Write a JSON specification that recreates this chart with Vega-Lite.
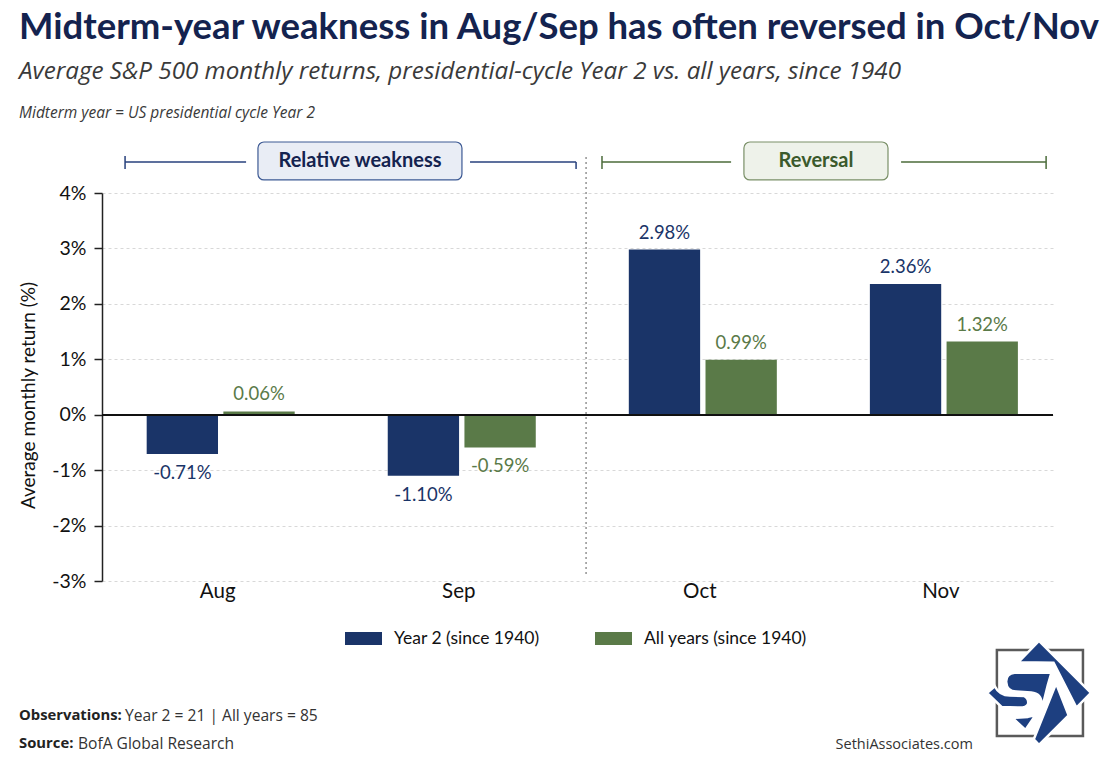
{
  "$schema": "https://vega.github.io/schema/vega-lite/v6.json",
  "width": 951,
  "height": 388,
  "autosize": "none",
  "padding": {"left": 102, "top": 193, "right": 47, "bottom": 184},
  "background": "#ffffff",
  "config": {"view": {"stroke": null}, "font": "Lato", "axis": {"labelFont": "Lato", "titleFont": "Lato"}, "legend": {"labelFont": "Lato"}},
  "title": {
    "text": "Midterm-year weakness in Aug/Sep has often reversed in Oct/Nov",
    "subtitle": "Average S&P 500 monthly returns, presidential-cycle Year 2 vs. all years, since 1940",
    "anchor": "start",
    "frame": "group",
    "dx": -83,
    "offset": 22,
    "font": "Lato",
    "fontSize": 36.5,
    "fontWeight": "bold",
    "color": "#14234f",
    "subtitleFont": "Open Sans",
    "subtitleFontStyle": "italic",
    "subtitleFontSize": 24.2,
    "subtitleColor": "#3a3a3a",
    "subtitlePadding": 13
  },
  "datasets": {
    "returns": [
      {"month": "Aug", "series": "Year 2 (since 1940)", "value": -0.71},
      {"month": "Aug", "series": "All years (since 1940)", "value": 0.06},
      {"month": "Sep", "series": "Year 2 (since 1940)", "value": -1.10},
      {"month": "Sep", "series": "All years (since 1940)", "value": -0.59},
      {"month": "Oct", "series": "Year 2 (since 1940)", "value": 2.98},
      {"month": "Oct", "series": "All years (since 1940)", "value": 0.99},
      {"month": "Nov", "series": "Year 2 (since 1940)", "value": 2.36},
      {"month": "Nov", "series": "All years (since 1940)", "value": 1.32}
    ],
    "annotations": [
      {"kind": "divider", "x": 2.036, "x2": 2.036, "y": 4.65, "y2": -2.89},
      {"kind": "weak", "x": 0.097, "x2": 0.606, "y": 4.559, "y2": 4.559},
      {"kind": "weak", "x": 1.548, "x2": 1.994, "y": 4.559, "y2": 4.559},
      {"kind": "weak", "x": 0.097, "x2": 0.097, "y": 4.667, "y2": 4.433},
      {"kind": "weak", "x": 1.994, "x2": 1.994, "y": 4.559, "y2": 4.433},
      {"kind": "reversal", "x": 2.103, "x2": 2.646, "y": 4.559, "y2": 4.559},
      {"kind": "reversal", "x": 3.361, "x2": 3.971, "y": 4.559, "y2": 4.559},
      {"kind": "reversal", "x": 2.103, "x2": 2.103, "y": 4.667, "y2": 4.433},
      {"kind": "reversal", "x": 3.971, "x2": 3.971, "y": 4.667, "y2": 4.433},
      {"kind": "weakBox", "x": 0.656, "x2": 1.514, "y": 4.92, "y2": 4.235},
      {"kind": "reversalBox", "x": 2.7, "x2": 3.306, "y": 4.92, "y2": 4.235},
      {"kind": "weakLabel", "x": 1.085, "y": 4.577, "label": "Relative weakness"},
      {"kind": "reversalLabel", "x": 3.003, "y": 4.577, "label": "Reversal"},
      {"kind": "note", "x": -0.349, "y": 5.443, "label": "Midterm year = US presidential cycle Year 2"},
      {"kind": "footBold", "x": -0.349, "y": -5.435, "label": "Observations:"},
      {"kind": "foot", "x": 0.097, "y": -5.435, "label": "Year 2 = 21 | All years = 85"},
      {"kind": "footBold", "x": -0.349, "y": -5.94, "label": "Source:"},
      {"kind": "foot", "x": -0.101, "y": -5.94, "label": "BofA Global Research"},
      {"kind": "site", "x": 3.663, "y": -5.96, "label": "SethiAssociates.com"},
      {"kind": "frame", "x": 3.764, "x2": 4.126, "y": -4.245, "y2": -5.796},
      {"kind": "logo", "x": 3.941, "y": -5.02}
    ]
  },
  "layer": [
    {
      "data": {"name": "returns"},
      "encoding": {
        "x": {
          "field": "month",
          "type": "nominal",
          "sort": ["Aug", "Sep", "Oct", "Nov"],
          "scale": {"paddingInner": 0.386, "paddingOuter": 0.1655, "align": 0.56},
          "axis": {
            "title": null,
            "labelAngle": 0,
            "labelFontSize": 20.5,
            "labelColor": "#111111",
            "labelPadding": 0,
            "labelOffset": -3,
            "ticks": false,
            "domain": false,
            "grid": false
          }
        }
      },
      "layer": [
        {
          "mark": {"type": "bar"},
          "encoding": {
            "xOffset": {
              "field": "series",
              "type": "nominal",
              "sort": ["Year 2 (since 1940)", "All years (since 1940)"],
              "scale": {"paddingInner": 0.07}
            },
            "y": {
              "field": "value",
              "type": "quantitative",
              "scale": {"domain": [-3, 4], "nice": false},
              "axis": {
                "title": "Average monthly return (%)",
                "titleFontSize": 19,
                "titleFontWeight": "normal",
                "titleColor": "#111111",
                "titlePadding": 13,
                "titleY": 202,
                "values": [-3, -2, -1, 0, 1, 2, 3, 4],
                "labelExpr": "datum.value + '%'",
                "labelFontSize": 19.5,
                "labelColor": "#111111",
                "labelPadding": 8,
                "tickSize": 8,
                "tickColor": "#222222",
                "tickWidth": 1.5,
                "domainColor": "#222222",
                "domainWidth": 1.5,
                "grid": true,
                "gridColor": "#d8d8d8",
                "gridDash": [3, 3],
                "gridWidth": 1
              }
            },
            "color": {
              "field": "series",
              "type": "nominal",
              "sort": ["Year 2 (since 1940)", "All years (since 1940)"],
              "scale": {
                "domain": ["Year 2 (since 1940)", "All years (since 1940)"],
                "range": ["#1a3468", "#5a7a48"]
              },
              "legend": {
                "title": null,
                "orient": "none",
                "direction": "horizontal",
                "legendX": 243,
                "legendY": 427,
                "symbolType": "M-1,-0.35H1V0.35H-1Z",
                "symbolSize": 1369,
                "symbolStrokeWidth": 0,
                "labelFontSize": 17.5,
                "labelColor": "#111111",
                "labelOffset": 12,
                "labelLimit": 260,
                "columnPadding": 55
              }
            }
          }
        },
        {
          "transform": [
            {"filter": "datum.value >= 0"},
            {"calculate": "format(datum.value, '.2f') + '%'", "as": "label"}
          ],
          "mark": {"type": "text", "baseline": "bottom", "dy": -7, "fontSize": 18.5},
          "encoding": {
            "xOffset": {
              "field": "series",
              "type": "nominal",
              "sort": ["Year 2 (since 1940)", "All years (since 1940)"],
              "scale": {"paddingInner": 0.07}
            },
            "y": {"field": "value", "type": "quantitative", "scale": {"domain": [-3, 4], "nice": false}},
            "text": {"field": "label"},
            "color": {"field": "series", "type": "nominal", "legend": null}
          }
        },
        {
          "transform": [
            {"filter": "datum.value < 0"},
            {"calculate": "replace(format(datum.value, '.2f'), '\u2212', '-') + '%'", "as": "label"}
          ],
          "mark": {"type": "text", "baseline": "top", "dy": 10, "fontSize": 18.5},
          "encoding": {
            "xOffset": {
              "field": "series",
              "type": "nominal",
              "sort": ["Year 2 (since 1940)", "All years (since 1940)"],
              "scale": {"paddingInner": 0.07}
            },
            "y": {"field": "value", "type": "quantitative", "scale": {"domain": [-3, 4], "nice": false}},
            "text": {"field": "label"},
            "color": {"field": "series", "type": "nominal", "legend": null}
          }
        },
        {
          "mark": {"type": "rule", "color": "#111111", "strokeWidth": 1.5},
          "encoding": {"x": {"value": 0}, "x2": {"value": 951}, "y": {"datum": 0, "type": "quantitative", "scale": {"domain": [-3, 4], "nice": false}}}
        }
      ]
    },
    {
      "data": {"name": "annotations"},
      "encoding": {
        "x": {"field": "x", "type": "quantitative", "scale": {"domain": [0, 4], "nice": false, "zero": false}, "axis": null},
        "y": {"field": "y", "type": "quantitative", "scale": {"domain": [-3, 4], "nice": false}}
      },
      "layer": [
        {
          "transform": [{"filter": "datum.kind == 'divider'"}],
          "mark": {"type": "rule", "color": "#777777", "strokeDash": [2, 3], "strokeWidth": 1.2},
          "encoding": {"x2": {"field": "x2"}, "y2": {"field": "y2"}}
        },
        {
          "transform": [{"filter": "datum.kind == 'weak'"}],
          "mark": {"type": "rule", "color": "#27407c", "strokeWidth": 1.5},
          "encoding": {"x2": {"field": "x2"}, "y2": {"field": "y2"}}
        },
        {
          "transform": [{"filter": "datum.kind == 'reversal'"}],
          "mark": {"type": "rule", "color": "#4b6b3a", "strokeWidth": 1.5},
          "encoding": {"x2": {"field": "x2"}, "y2": {"field": "y2"}}
        },
        {
          "transform": [{"filter": "datum.kind == 'weakBox'"}],
          "mark": {"type": "rect", "fill": "#e9edf5", "stroke": "#3d5a94", "strokeWidth": 1.2, "cornerRadius": 6},
          "encoding": {"x2": {"field": "x2"}, "y2": {"field": "y2"}}
        },
        {
          "transform": [{"filter": "datum.kind == 'reversalBox'"}],
          "mark": {"type": "rect", "fill": "#eef2ea", "stroke": "#7a9068", "strokeWidth": 1.2, "cornerRadius": 6},
          "encoding": {"x2": {"field": "x2"}, "y2": {"field": "y2"}}
        },
        {
          "transform": [{"filter": "datum.kind == 'weakLabel'"}],
          "mark": {"type": "text", "fontSize": 20, "fontWeight": "bold", "color": "#14234f"},
          "encoding": {"text": {"field": "label"}}
        },
        {
          "transform": [{"filter": "datum.kind == 'reversalLabel'"}],
          "mark": {"type": "text", "fontSize": 20, "fontWeight": "bold", "color": "#3b5a2c"},
          "encoding": {"text": {"field": "label"}}
        },
        {
          "transform": [{"filter": "datum.kind == 'note'"}],
          "mark": {"type": "text", "align": "left", "font": "Open Sans", "fontStyle": "italic", "fontSize": 15.5, "color": "#3a3a3a"},
          "encoding": {"text": {"field": "label"}}
        },
        {
          "transform": [{"filter": "datum.kind == 'footBold'"}],
          "mark": {"type": "text", "align": "left", "font": "Open Sans", "fontWeight": "bold", "fontSize": 14.8, "color": "#222222"},
          "encoding": {"text": {"field": "label"}}
        },
        {
          "transform": [{"filter": "datum.kind == 'foot'"}],
          "mark": {"type": "text", "align": "left", "font": "Open Sans", "fontSize": 15.6, "color": "#333333"},
          "encoding": {"text": {"field": "label"}}
        },
        {
          "transform": [{"filter": "datum.kind == 'site'"}],
          "mark": {"type": "text", "align": "right", "font": "Open Sans", "fontSize": 14.5, "color": "#333333"},
          "encoding": {"text": {"field": "label"}}
        },
        {
          "transform": [{"filter": "datum.kind == 'frame'"}],
          "mark": {"type": "rect", "fillOpacity": 0, "stroke": "#5a5a5a", "strokeWidth": 2.5},
          "encoding": {"x2": {"field": "x2"}, "y2": {"field": "y2"}}
        },
        {
          "transform": [{"filter": "datum.kind == 'logo'"}],
          "mark": {"type": "point", "filled": true, "opacity": 1, "size": 10816, "color": "#1d3f80", "stroke": "#ffffff", "strokeWidth": 2.5, "strokeOpacity": 1, "shape": "M0,-1L1,0L0.72,0.28L0.28,-0.58L-0.4,-0.59Z"}
        },
        {
          "transform": [{"filter": "datum.kind == 'logo'"}],
          "mark": {"type": "point", "filled": true, "opacity": 1, "size": 10816, "color": "#1d3f80", "stroke": "#ffffff", "strokeWidth": 2.5, "strokeOpacity": 1, "shape": "M0.24,-0.39L-0.47,-0.39Q-0.64,-0.37,-0.63,-0.21Q-0.62,-0.03,-0.44,-0.03L-0.15,-0.01Q0.05,0.01,0.05,0.21Q0.01,0.43,-0.21,0.46L-0.51,0.48L-0.26,0.71L0.08,0.21L0.17,-0.15Z"}
        },
        {
          "transform": [{"filter": "datum.kind == 'logo'"}],
          "mark": {"type": "point", "filled": true, "opacity": 1, "size": 10816, "color": "#1d3f80", "stroke": "#ffffff", "strokeWidth": 2.5, "strokeOpacity": 1, "shape": "M-1,0L-0.85,-0.13Q-0.76,0.05,-0.56,0.05L-0.28,0.06Q-0.19,0.11,-0.21,0.21Q-0.24,0.28,-0.37,0.28L-0.72,0.27Z"}
        },
        {
          "transform": [{"filter": "datum.kind == 'logo'"}],
          "mark": {"type": "point", "filled": true, "opacity": 1, "size": 10816, "color": "#1d3f80", "stroke": "#ffffff", "strokeWidth": 2.5, "strokeOpacity": 1, "shape": "M0.33,-0.18L0.57,0.43L0,1L-0.1,0.89Z"}
        }
      ]
    }
  ],
  "resolve": {"scale": {"x": "independent"}, "axis": {"x": "independent"}}
}
